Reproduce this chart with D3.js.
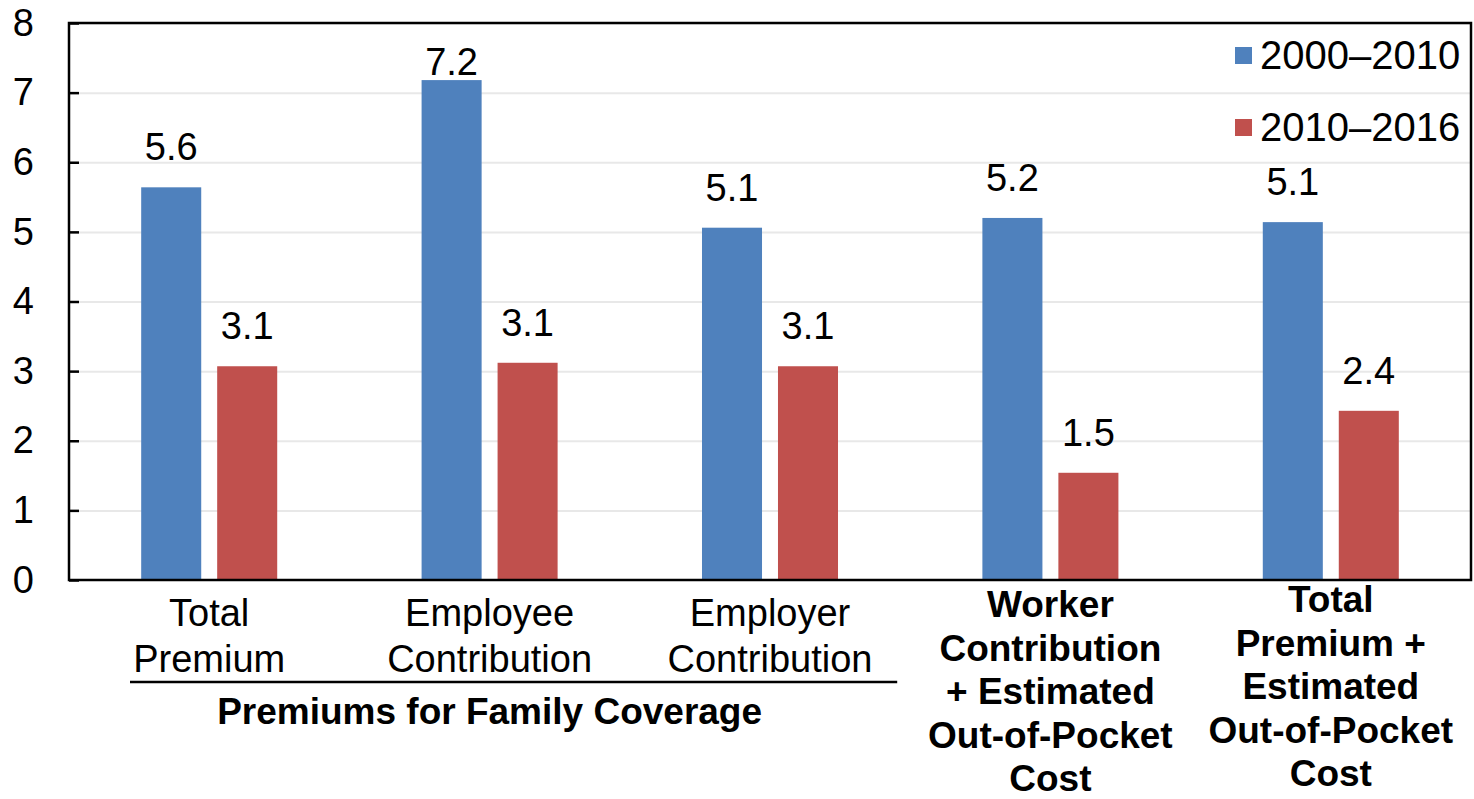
<!DOCTYPE html>
<html lang="en">
<head>
  <meta charset="UTF-8">
  <title>Premium growth by period</title>
  <script src="https://d3js.org/d3.v7.min.js"></script>
  <style>
    body { margin: 0; background: #fff; }
    svg { display: block; font-family: "Liberation Sans", Arial, sans-serif; }
  </style>
</head>
<body>
  <svg id="chart"></svg>

  <script>
    // Categories (each label split into lines) and whether the label is bold
    const categories = ["Total Premium", "Employee Contribution", "Employer Contribution",
                        "Worker Contribution + Estimated OOP", "Total Premium + Estimated OOP"];
    const categoryLines = [
      ["Total", "Premium"],
      ["Employee", "Contribution"],
      ["Employer", "Contribution"],
      ["Worker", "Contribution", "+ Estimated", "Out-of-Pocket", "Cost"],
      ["Total", "Premium +", "Estimated", "Out-of-Pocket", "Cost"]
    ];
    const categoryBold = [false, false, false, true, true];

    const series = ["2000–2010", "2010–2016"];
    const colors = ["#4F81BD", "#C0504D"];
    const values2000 = [5.64, 7.18, 5.06, 5.2, 5.14];
    const values2010 = [3.07, 3.12, 3.07, 1.54, 2.43];
    const yTicks = [0, 1, 2, 3, 4, 5, 6, 7, 8];

    const groupTitle = "Premiums for Family Coverage";

    const W = 1474, H = 799;
    const margin = { top: 23, right: 3, bottom: 219, left: 69 };
    const width = W - margin.left - margin.right;
    const height = H - margin.top - margin.bottom;

    const svgRoot = d3.select("#chart").attr("width", W).attr("height", H);
    const svg = svgRoot.append("g")
                       .attr("transform", `translate(${margin.left},${margin.top})`);

    const x0 = d3.scaleBand().domain(categories).range([0, width]);
    const x1 = d3.scaleBand().domain(series).range([0, x0.bandwidth()])
                 .paddingInner(0.21).paddingOuter(0.95);
    const y = d3.scaleLinear().domain([0, 8]).range([height, 0]);

    // gridlines
    svg.append("g")
       .call(d3.axisLeft(y).tickValues(yTicks.slice(1)).tickSize(-width).tickFormat(""))
       .call(g => g.select(".domain").remove())
       .call(g => g.selectAll("line").attr("stroke", "#e8e8e8").attr("stroke-width", 2));

    const rows = categories.map((c, i) => ({ cat: c, vals: [values2000[i], values2010[i]] }));

    const fmt = d3.format(".1f");

    const groups = svg.selectAll(".grp")
       .data(rows)
       .enter().append("g")
       .attr("transform", d => `translate(${x0(d.cat)},0)`);

    groups.selectAll("rect")
       .data(d => d.vals.map((v, j) => ({ s: series[j], v: v, j: j })))
       .enter().append("rect")
       .attr("x", d => x1(d.s))
       .attr("width", x1.bandwidth())
       .attr("y", d => y(d.v))
       .attr("height", d => height - y(d.v))
       .attr("fill", d => colors[d.j]);

    // value labels; kept a bit below the top of the plot like the original
    groups.selectAll(".val")
       .data(d => d.vals.map((v, j) => ({ s: series[j], v: v })))
       .enter().append("text")
       .attr("x", d => x1(d.s) + x1.bandwidth() / 2)
       .attr("y", d => Math.max(y(d.v) - 27, 52))
       .attr("text-anchor", "middle")
       .style("font-size", "38px")
       .text(d => fmt(d.v));

    // y axis with inward ticks
    const yAxis = svg.append("g")
       .call(d3.axisLeft(y).tickValues(yTicks).tickSize(-10).tickPadding(35));
    yAxis.select(".domain").remove();
    yAxis.selectAll("line").attr("stroke", "#000").attr("stroke-width", 2.5);
    yAxis.selectAll("text").style("font-size", "38px").attr("fill", "#000")
         .attr("font-family", "'Liberation Sans', Arial, sans-serif");

    // plot frame
    svg.append("rect")
       .attr("x", 0).attr("y", 0)
       .attr("width", width).attr("height", height)
       .attr("fill", "none")
       .attr("stroke", "#000")
       .attr("stroke-width", 2.5);

    // category labels
    const labelTop = height + 46;
    svg.selectAll(".cat")
       .data(categories)
       .enter().append("text")
       .attr("x", d => x0(d) + x0.bandwidth() / 2)
       .attr("y", (d, i) => categoryBold[i] ? labelTop - 9 - (i === 4 ? 5 : 0) : labelTop)
       .attr("text-anchor", "middle")
       .style("font-size", (d, i) => categoryBold[i] ? "37px" : "38px")
       .style("font-weight", (d, i) => categoryBold[i] ? "bold" : "normal")
       .each(function(d, i) {
         const t = d3.select(this);
         const lh = categoryBold[i] ? 43.5 : 46;
         categoryLines[i].forEach((ln, k) => {
           t.append("tspan")
            .attr("x", x0(d) + x0.bandwidth() / 2)
            .attr("dy", k === 0 ? 0 : lh)
            .text(ln);
         });
       });

    // group bracket under first three categories
    const gx0 = x0(categories[0]) + 61;
    const gx1 = x0(categories[2]) + x0.bandwidth() - 13;
    svg.append("line")
       .attr("x1", gx0).attr("x2", gx1)
       .attr("y1", height + 102).attr("y2", height + 102)
       .attr("stroke", "#000").attr("stroke-width", 2.5);

    svg.append("text")
       .attr("x", x0(categories[1]) + x0.bandwidth() / 2)
       .attr("y", height + 144)
       .attr("text-anchor", "middle")
       .style("font-size", "37px")
       .style("font-weight", "bold")
       .text(groupTitle);

    // legend
    const legend = svg.selectAll(".leg")
       .data(series)
       .enter().append("g")
       .attr("transform", (d, i) => `translate(${width - 236},${24 + i * 72})`);
    legend.append("rect")
       .attr("width", 17).attr("height", 17)
       .attr("fill", (d, i) => colors[i]);
    legend.append("text")
       .attr("x", 25).attr("y", 22)
       .style("font-size", "40px")
       .text(d => d);
  </script>
</body>
</html>
